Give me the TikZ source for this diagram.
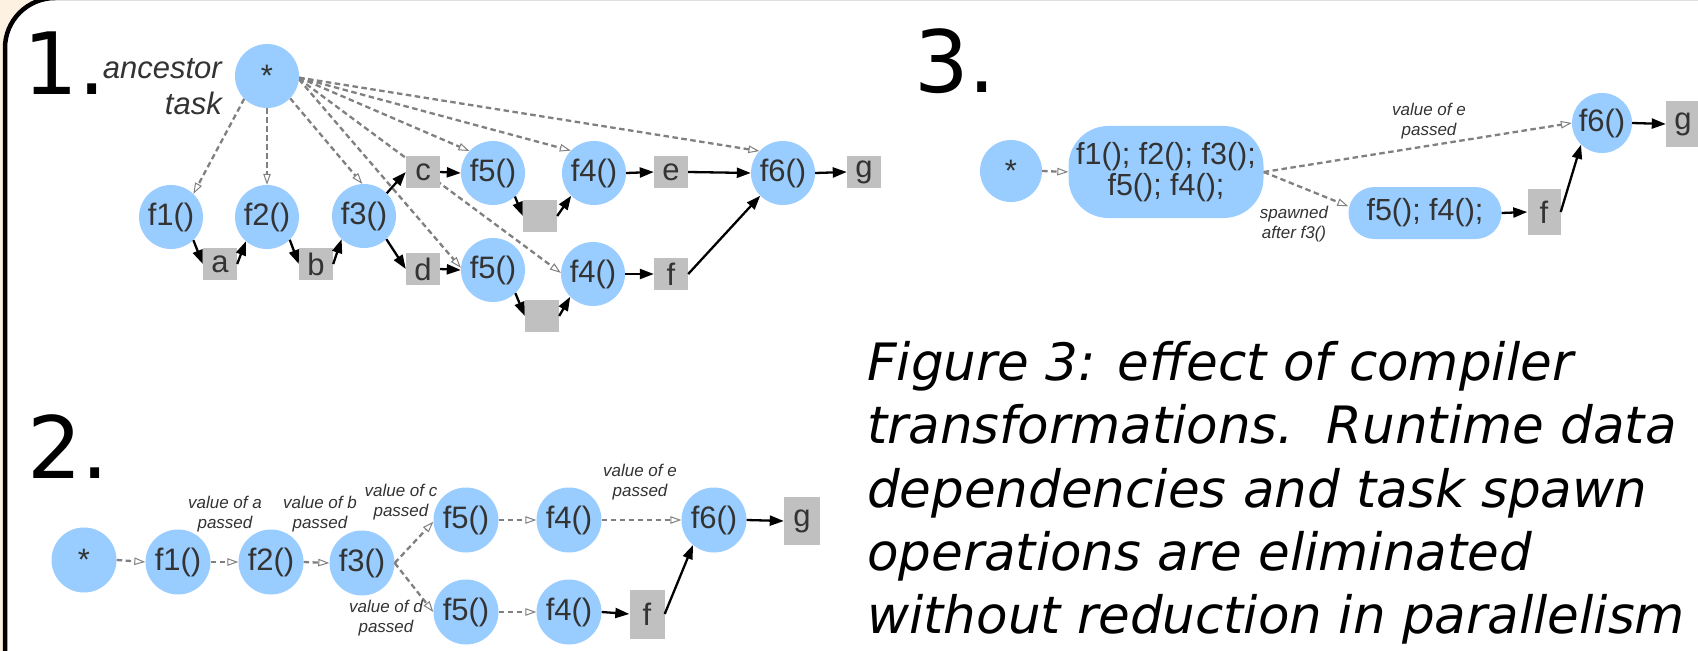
\documentclass[tikz,border=0pt]{standalone}
\usepackage{fontspec}
\setmainfont{Liberation Sans}
\newfontfamily\dvfont{DejaVu Sans}
\usetikzlibrary{arrows.meta}
\pgfdeclarelayer{paper}
\pgfdeclarelayer{edges}
\pgfsetlayers{paper,edges,main}
\newcommand{\fsz}[2]{\fontsize{#1bp}{#2bp}\selectfont}
\definecolor{nodeblue}{RGB}{153,204,255}
\definecolor{boxgray}{RGB}{192,192,192}
\definecolor{txtgray}{RGB}{51,51,51}
\definecolor{dashgray}{RGB}{128,128,128}
\definecolor{pagetint}{RGB}{253,241,226}
\tikzset{
  task/.style={circle, fill=nodeblue, minimum size=64bp, inner sep=0pt,
    text=txtgray, font=\fsz{31}{32}},
  val/.style={rectangle, fill=boxgray, minimum width=34bp, minimum height=32bp,
    inner sep=0pt, text=txtgray, font=\fsz{31}{32}},
  tallval/.style={val, minimum width=35bp, minimum height=48bp},
  merged/.style={rectangle, fill=nodeblue, inner sep=0pt, text=txtgray,
    font=\fsz{30.5}{31}, align=center},
  dep/.style={-{Triangle[length=14bp,width=10bp]}, line width=2.3bp, black},
  spawn/.style={-{Triangle[open,length=11bp,width=7.5bp,line width=1bp]},
    draw=dashgray, line width=2.3bp, dash pattern=on 5.5bp off 3.5bp},
  note/.style={font=\fsz{17}{19.5}\itshape, text=txtgray, align=center, inner sep=0pt},
  digit/.style={font=\dvfont\fsz{86}{86}, anchor=base west, inner sep=0pt},
  capline/.style={font=\dvfont\itshape\fsz{51.5}{60}, anchor=base west, inner sep=0pt}
}
\begin{document}
\begin{tikzpicture}[x=1bp, y=-1bp]
\useasboundingbox (0,0) rectangle (1698,651);
\begin{pgfonlayer}{paper}
  \fill[pagetint] (0,0) rectangle (1698,651);
  \draw[line width=4.5bp, fill=white, rounded corners=50bp] (5,-2) rectangle (1760,720);
\end{pgfonlayer}

% ---------- panel 1: spawned tasks with runtime data dependencies ----------
\node[digit] (n1) at (23.5,95) {1.};
\node[anchor=base east, inner sep=0pt, font=\fsz{31}{36}\itshape, text=txtgray] (anc1) at (222,79) {ancestor};
\node[anchor=base east, inner sep=0pt, font=\fsz{31}{36}\itshape, text=txtgray] (anc2) at (222,115) {task};

\node[task] (p1star) at (267,76) {*};
\node[task] (p1f1) at (171,217) {f1()};
\node[task] (p1f2) at (267,217) {f2()};
\node[task] (p1f3) at (364,216) {f3()};
\node[val] (p1a) at (220,264) {a};
\node[val] (p1b) at (316,264) {b};
\node[val] (p1c) at (423,172) {c};
\node[val] (p1d) at (423,269) {d};
\node[task] (p1f5u) at (493,173) {f5()};
\node[task] (p1f5l) at (493,270) {f5()};
\node[val] (p1bu) at (540,216) {};
\node[val] (p1bl) at (542,316) {};
\node[task] (p1f4u) at (594,173) {f4()};
\node[task] (p1f4l) at (593,274) {f4()};
\node[val] (p1e) at (671,172) {e};
\node[val] (p1f) at (671,274) {f};
\node[task] (p1f6) at (783,173) {f6()};
\node[val] (p1g) at (864,172) {g};

\begin{pgfonlayer}{edges}
  \draw[spawn] (p1star.-135) -- (p1f1.46);
  \draw[spawn] (p1star.south) -- (p1f2.north);
  \draw[spawn] (p1star.-44) -- (p1f3.93);
  \draw[spawn] (p1star.-3) -- (p1f5u.137);
  \draw[spawn] (p1star.-3) -- (p1f4u.136);
  \draw[spawn] (p1star.-3) -- (p1f6.137);
  \draw[spawn] (p1star.-6) -- (p1f5l.176);
  \draw[spawn] (p1star.-5) -- (p1f4l.178);
\end{pgfonlayer}
\draw[dep] (p1f1.-46) -- (p1a.west);
\draw[dep] (p1a.east) -- (p1f2.-131);
\draw[dep] (p1f2.-45) -- (p1b.west);
\draw[dep] (p1b.east) -- (p1f3.-134);
\draw[dep] (p1f3.45) -- (p1c.west);
\draw[dep] (p1f3.-46) -- (p1d.west);
\draw[dep] (p1c.east) -- (p1f5u.west);
\draw[dep] (p1d.east) -- (p1f5l.west);
\draw[dep] (p1f5u.-47) -- (p1bu.west);
\draw[dep] (p1bu.east) -- (p1f4u.-135);
\draw[dep] (p1f5l.-46) -- (p1bl.west);
\draw[dep] (p1bl.east) -- (p1f4l.-135);
\draw[dep] (p1f4u.east) -- (p1e.west);
\draw[dep] (p1f4l.east) -- (p1f.west);
\draw[dep] (p1e.east) -- (p1f6.west);
\draw[dep] (p1f.east) -- (p1f6.-135);
\draw[dep] (p1f6.east) -- (p1g.west);

% ---------- panel 2: values passed directly ----------
\node[digit] (n2) at (27,478) {2.};
\node[task, minimum size=65bp] (p2star) at (84,560) {*};
\node[task, minimum size=65bp] (p2f1) at (178,562) {f1()};
\node[task, minimum size=65bp] (p2f2) at (271,562) {f2()};
\node[task, minimum size=65bp] (p2f3) at (362,563) {f3()};
\node[task, minimum size=65bp] (p2f5u) at (466,520) {f5()};
\node[task, minimum size=65bp] (p2f5l) at (466,612) {f5()};
\node[task, minimum size=65bp] (p2f4u) at (569,520) {f4()};
\node[task, minimum size=65bp] (p2f4l) at (569,612) {f4()};
\node[task, minimum size=65bp] (p2f6) at (714,520) {f6()};
\node[tallval, minimum width=36bp] (p2g) at (802,521) {g};
\node[tallval, minimum height=49bp] (p2f) at (647,614) {f};

\draw[spawn] (p2star.east) -- (p2f1.west);
\draw[spawn] (p2f1.east) -- (p2f2.west);
\draw[spawn] (p2f2.east) -- (p2f3.west);
\draw[spawn] (p2f3.east) -- (p2f5u.183);
\draw[spawn] (p2f3.east) -- (p2f5l.west);
\draw[spawn] (p2f5u.east) -- (p2f4u.west);
\draw[spawn] (p2f5l.east) -- (p2f4l.west);
\draw[spawn] (p2f4u.east) -- (p2f6.west);
\draw[dep] (p2f4l.east) -- (p2f.west);
\draw[dep] (p2f.east) -- (p2f6.-130);
\draw[dep] (p2f6.east) -- (p2g.west);

\node[note] (p2la) at (225,514) {value of a\\passed};
\node[note] (p2lb) at (320,514) {value of b\\passed};
\node[note] (p2lc) at (401,502) {value of c\\passed};
\node[note] (p2le) at (640,482) {value of e\\passed};
\node[note] (p2ld) at (386,618) {value of d\\passed};

% ---------- panel 3: merged tasks ----------
\node[digit] (n3) at (914,93) {3.};
\node[task, minimum size=62bp] (p3star) at (1011,171) {*};
\node[merged, rounded corners=40bp, minimum width=195bp, minimum height=92bp] (p3big) at (1166,172) {f1(); f2(); f3();\\f5(); f4();};
\node[merged, rounded corners=26bp, minimum width=153bp, minimum height=52bp] (p3small) at (1425,213) {f5(); f4();};
\node[tallval, minimum width=33bp, minimum height=46bp] (p3f) at (1544,212) {f};
\node[task, minimum size=60bp] (p3f6) at (1602,123) {f6()};
\node[tallval, minimum width=34bp, minimum height=45bp] (p3g) at (1683,124) {g};

\draw[spawn] (p3star.east) -- (p3big.west);
\draw[spawn] (p3big.east) -- (p3f6.west);
\draw[spawn] (p3big.east) -- (p3small.175);
\draw[dep] (p3small.east) -- (p3f.west);
\draw[dep] (p3f.east) -- (p3f6.-134);
\draw[dep] (p3f6.east) -- (p3g.west);

\node[note] (p3le) at (1429,121) {value of e\\passed};
\node[note] (p3ls) at (1294,224) {spawned\\after f3()};

% ---------- caption ----------
\node[capline] (cap1) at (867,380) {Figure 3: effect of compiler};
\node[capline] (cap2) at (867,443) {transformations.\ \ Runtime data};
\node[capline] (cap3) at (867,507) {dependencies and task spawn};
\node[capline] (cap4) at (867,570) {operations are eliminated};
\node[capline] (cap5) at (867,633) {without reduction in parallelism};
\end{tikzpicture}
\end{document}
